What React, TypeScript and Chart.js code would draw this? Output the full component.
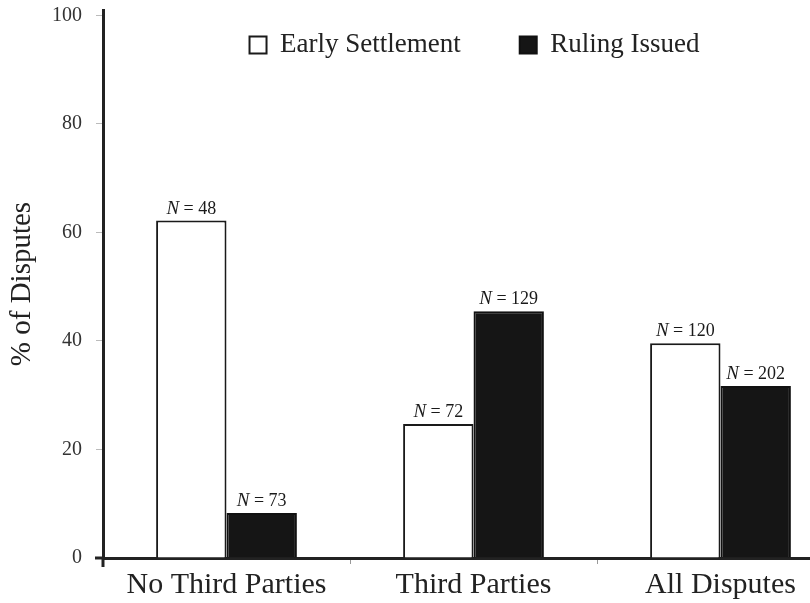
import React, { useEffect, useRef } from 'react';
import { Chart, registerables } from 'chart.js';

Chart.register(...registerables);

const categories = ['No Third Parties', 'Third Parties', 'All Disputes'];
const seriesLabels = ['Early Settlement', 'Ruling Issued'];
const earlySettlement = [62.2, 24.7, 39.6];
const rulingIssued = [8.3, 45.5, 31.7];
const earlyN = [48, 72, 120];
const rulingN = [73, 129, 202];
const yTickStep = 20;

const FONT = '"Liberation Serif", "Times New Roman", serif';
const LEG_CENTER_Y = 45;
const LEG_SHIFT = 1;

export default function App() {
  const ref = useRef<HTMLCanvasElement>(null);

  useEffect(() => {
    const canvas = ref.current;
    if (!canvas) return;

    const counts = [earlyN, rulingN];

    const nLabels = {
      id: 'nLabels',
      afterDatasetsDraw(chart: any) {
        const ctx = chart.ctx;
        chart.data.datasets.forEach((_ds: any, di: number) => {
          const meta = chart.getDatasetMeta(di);
          meta.data.forEach((el: any, i: number) => {
            const x = el.x;
            const y = el.y - 7;
            const a = 'N';
            const b = ' = ' + counts[di][i];
            ctx.save();
            ctx.fillStyle = '#1a1a1a';
            ctx.textBaseline = 'alphabetic';
            ctx.textAlign = 'left';
            ctx.font = `italic 19px ${FONT}`;
            const wa = ctx.measureText(a).width;
            ctx.font = `18px ${FONT}`;
            const wb = ctx.measureText(b).width;
            const x0 = x - (wa + wb) / 2;
            ctx.font = `italic 19px ${FONT}`;
            ctx.fillText(a, x0, y);
            ctx.font = `18px ${FONT}`;
            ctx.fillText(b, x0 + wa, y);
            ctx.restore();
          });
        });
      },
    };

    const axisExt = {
      id: 'axisExt',
      afterDraw(chart: any) {
        const { ctx, chartArea } = chart;
        ctx.save();
        ctx.strokeStyle = '#222';
        ctx.lineWidth = 3;
        ctx.beginPath();
        ctx.moveTo(chartArea.left, chartArea.bottom);
        ctx.lineTo(chartArea.left, chartArea.bottom + 9);
        ctx.stroke();
        ctx.beginPath();
        ctx.moveTo(chartArea.left - 8, chartArea.bottom);
        ctx.lineTo(chartArea.left, chartArea.bottom);
        ctx.stroke();
        ctx.restore();
      },
    };

    const legendFloat = {
      id: 'legendFloat',
      beforeLayout(chart: any) {
        const lg = chart.legend;
        if (lg && !lg.__patched) {
          const orig = lg.fit;
          lg.fit = function (this: any) {
            orig.call(this);
            this.__h = this.height;
            this.height = 0;
          };
          lg.__patched = true;
        }
      },
      afterLayout(chart: any) {
        const lg = chart.legend;
        if (!lg) return;
        const opts = lg.options.labels;
        const pad = opts.padding;
        const fs = opts.font.size;
        const top = LEG_CENTER_Y - pad - fs / 2;
        lg.top = top;
        lg.height = lg.__h;
        lg.bottom = top + lg.__h;
        lg.left += LEG_SHIFT;
        lg.right += LEG_SHIFT;
      },
    };

    const chart = new Chart(canvas, {
      type: 'bar',
      data: {
        labels: categories,
        datasets: [
          {
            label: seriesLabels[0],
            data: earlySettlement,
            backgroundColor: '#ffffff',
            borderColor: '#1a1a1a',
            borderWidth: 2,
            categoryPercentage: 0.57,
            barPercentage: 1,
          },
          {
            label: seriesLabels[1],
            data: rulingIssued,
            backgroundColor: '#151515',
            borderColor: '#111111',
            borderWidth: 2,
            categoryPercentage: 0.57,
            barPercentage: 1,
          },
        ],
      },
      options: {
        responsive: false,
        animation: false,
        layout: { padding: { top: 10, right: 26, left: 0, bottom: 0 } },
        plugins: {
          legend: {
            position: 'top',
            fullSize: false,
            align: 'center',
            labels: {
              font: { family: FONT, size: 27 },
              color: '#222',
              boxWidth: 17,
              boxHeight: 17,
              padding: 59,
            },
          },
          tooltip: { enabled: false },
        },
        scales: {
          x: {
            grid: {
              drawOnChartArea: false,
              offset: true,
              tickLength: 6,
              tickColor: '#999',
              tickWidth: 1,
            },
            border: { color: '#222', width: 3 },
            ticks: {
              font: { family: FONT, size: 30 },
              color: '#222',
              padding: 3,
              maxRotation: 0,
              autoSkip: false,
            },
            afterFit: (s: any) => {
              s.height = 45;
              s.paddingLeft = 0;
              s.paddingRight = 0;
            },
          },
          y: {
            min: 0,
            max: 101,
            ticks: {
              stepSize: yTickStep,
              includeBounds: false,
              font: { family: FONT, size: 20 },
              color: '#333',
              padding: 14,
            },
            grid: {
              drawOnChartArea: false,
              tickLength: 7,
              tickColor: '#bbb',
              tickWidth: 1,
            },
            border: { color: '#222', width: 3 },
            title: {
              display: true,
              text: '% of Disputes',
              font: { family: FONT, size: 29 },
              color: '#222',
              padding: { top: 5, bottom: 0 },
            },
            afterFit: (s: any) => {
              s.width = 103;
              s.paddingTop = 0;
              s.paddingBottom = 0;
            },
          },
        },
      },
      plugins: [legendFloat, nLabels, axisExt],
    } as any);

    return () => chart.destroy();
  }, []);

  return (
    <div
      style={{
        position: 'fixed',
        left: 0,
        top: 0,
        width: 810,
        height: 603,
        overflow: 'hidden',
        background: '#fff',
      }}
    >
      <canvas ref={ref} width={870} height={603} style={{ display: 'block' }} />
    </div>
  );
}
